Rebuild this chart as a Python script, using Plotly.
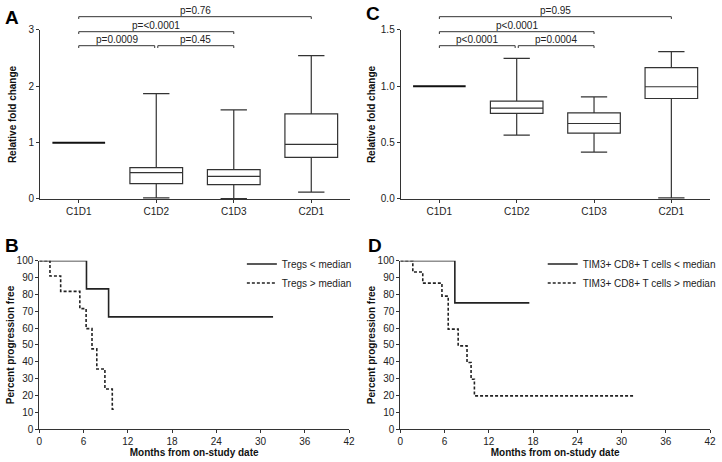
import plotly.graph_objects as go

W, H = 722, 462
FONT = "Arial, Liberation Sans, sans-serif"
LC = "#333333"

# ---------------- Panel A : Tregs relative fold change ----------------
cats = ["C1D1", "C1D2", "C1D3", "C2D1"]
a_low = [1.0, 0.02, 0.005, 0.12]
a_q1 = [1.0, 0.273, 0.255, 0.74]
a_med = [1.0, 0.468, 0.40, 0.97]
a_q3 = [1.0, 0.557, 0.52, 1.51]
a_high = [1.0, 1.87, 1.58, 2.545]
a_pairs = [(0, 0.98, "p=0.0009", 0), (1.02, 2, "p=0.45", 0), (0, 2, "p=<0.0001", 1), (0, 3, "p=0.76", 2)]

# ---------------- Panel C : TIM3+ CD8+ relative fold change ----------------
c_low = [1.0, 0.566, 0.415, 0.01]
c_q1 = [1.0, 0.759, 0.584, 0.892]
c_med = [1.0, 0.806, 0.67, 0.996]
c_q3 = [1.0, 0.869, 0.765, 1.165]
c_high = [1.0, 1.248, 0.907, 1.307]
c_pairs = [(0, 0.98, "p<0.0001", 0), (1.02, 2, "p=0.0004", 0), (0, 2, "p<0.0001", 1), (0, 3, "p=0.95", 2)]

# ---------------- Panel B : KM by Tregs ----------------
b_lo_t = [0, 6.4, 9.4, 31.7]
b_lo_s = [100, 83.3, 66.7, 66.7]
b_hi_t = [0, 1.45, 2.9, 5.5, 6.35, 7.15, 7.8, 8.9, 9.9, 10.3]
b_hi_s = [100, 90.9, 81.8, 71.6, 59.7, 47.7, 35.8, 23.9, 11.9, 11.9]

# ---------------- Panel D : KM by TIM3+ CD8+ ----------------
d_lo_t = [0, 7.4, 17.5]
d_lo_s = [100, 75, 75]
d_hi_t = [0, 1.7, 3.05, 5.65, 6.5, 7.85, 9.05, 9.6, 10.05, 31.8]
d_hi_s = [100, 93.3, 86.7, 79.0, 59.4, 49.5, 39.6, 29.7, 19.8, 19.8]

km_ticks = [0, 6, 12, 18, 24, 30, 36, 42]

fig = go.Figure()


def add_boxes(xa, ya, low, q1, med, q3, high):
    for i in range(len(cats)):
        flat = q1[i] == q3[i]
        fig.add_trace(go.Box(
            x=[i], q1=[q1[i]], median=[med[i]], q3=[q3[i]],
            lowerfence=[low[i]], upperfence=[high[i]],
            width=0.68, whiskerwidth=0.5, boxpoints=False,
            fillcolor="white", line=dict(color="#111" if flat else LC, width=2 if flat else 1.2),
            showlegend=False, hoverinfo="skip", xaxis=xa, yaxis=ya))


add_boxes("x", "y", a_low, a_q1, a_med, a_q3, a_high)
add_boxes("x3", "y3", c_low, c_q1, c_med, c_q3, c_high)

fig.add_trace(go.Scatter(x=b_lo_t, y=b_lo_s, mode="lines", line=dict(shape="hv", color="#222", width=1.6),
                         name="Tregs < median", xaxis="x2", yaxis="y2", legend="legend"))
fig.add_trace(go.Scatter(x=b_hi_t, y=b_hi_s, mode="lines", line=dict(shape="hv", color="#222", width=1.6, dash="3px,2px"),
                         name="Tregs > median", xaxis="x2", yaxis="y2", legend="legend"))
fig.add_trace(go.Scatter(x=d_lo_t, y=d_lo_s, mode="lines", line=dict(shape="hv", color="#222", width=1.6),
                         name="TIM3+ CD8+ T cells < median", xaxis="x4", yaxis="y4", legend="legend2"))
fig.add_trace(go.Scatter(x=d_hi_t, y=d_hi_s, mode="lines", line=dict(shape="hv", color="#222", width=1.6, dash="3px,2px"),
                         name="TIM3+ CD8+ T cells > median", xaxis="x4", yaxis="y4", legend="legend2"))

tickfont = dict(family=FONT, size=10, color="#222")
titlefont = dict(family=FONT, size=10, color="#111")
axbase = dict(showline=True, linecolor=LC, linewidth=1, ticks="outside", ticklen=3, tickcolor=LC,
              showgrid=False, zeroline=False, tickfont=tickfont, automargin=False)

top_dom = [0.5693, 0.9351]
bot_dom = [0.0708, 0.4357]
left_dom = [0.0554, 0.4848]
right_dom = [0.555, 0.9834]

fig.update_layout(
    width=W, height=H, autosize=False, margin=dict(l=0, r=0, t=0, b=0, autoexpand=False),
    paper_bgcolor="white", plot_bgcolor="white", font=dict(family=FONT, size=10, color="#222"),
    xaxis=dict(axbase, domain=left_dom, anchor="y", range=[-0.5, 3.5], tickvals=[0, 1, 2, 3], ticktext=cats),
    yaxis=dict(axbase, domain=top_dom, anchor="x", range=[0, 3], tickvals=[0, 1, 2, 3],
               title=dict(text="<b>Relative fold change</b>", font=titlefont, standoff=9)),
    xaxis3=dict(axbase, domain=right_dom, anchor="y3", range=[-0.5, 3.5], tickvals=[0, 1, 2, 3], ticktext=cats),
    yaxis3=dict(axbase, domain=top_dom, anchor="x3", range=[0, 1.5], tickvals=[0, 0.5, 1.0, 1.5], tickformat=".1f",
                title=dict(text="<b>Relative fold change</b>", font=titlefont, standoff=3)),
    xaxis2=dict(axbase, domain=[0.0544, 0.4834], anchor="y2", range=[0, 42], tickvals=km_ticks,
                title=dict(text="<b>Months from on-study date</b>", font=titlefont, standoff=1)),
    yaxis2=dict(axbase, domain=bot_dom, anchor="x2", range=[0, 100], dtick=10,
                title=dict(text="<b>Percent progression free</b>", font=titlefont, standoff=0)),
    xaxis4=dict(axbase, domain=[0.5544, 0.9834], anchor="y4", range=[0, 42], tickvals=km_ticks,
                title=dict(text="<b>Months from on-study date</b>", font=titlefont, standoff=1)),
    yaxis4=dict(axbase, domain=bot_dom, anchor="x4", range=[0, 100], dtick=10,
                title=dict(text="<b>Percent progression free</b>", font=titlefont, standoff=0)),
    legend=dict(x=0.335, y=0.46, xanchor="left", yanchor="top", bgcolor="rgba(0,0,0,0)",
                font=dict(family=FONT, size=10, color="#222"), tracegroupgap=0),
    legend2=dict(x=0.7517, y=0.46, xanchor="left", yanchor="top", bgcolor="rgba(0,0,0,0)",
                 font=dict(family=FONT, size=10, color="#222"), tracegroupgap=0),
)

# significance brackets (levels stacked above the top of the box panels)
level_y = [0.9011, 0.9314, 0.9639]
tick = 0.005
for xa, pairs in (("x", a_pairs), ("x3", c_pairs)):
    for x0, x1, label, lv in pairs:
        y = level_y[lv]
        fig.add_shape(type="path", xref=xa, yref="paper",
                      path=f"M {x0},{y - tick} L {x0},{y} L {x1},{y} L {x1},{y - tick}",
                      line=dict(color=LC, width=1))
        fig.add_annotation(x=(x0 + x1) / 2, y=y, xref=xa, yref="paper", text=label, showarrow=False,
                           yanchor="bottom", font=dict(family=FONT, size=10, color="#222"), yshift=-1)

# panel letters
for letter, px, py in (("A", 3, 17), ("C", 364, 14), ("B", 3, 245), ("D", 366, 245)):
    fig.add_annotation(x=px / W, y=1 - py / H, xref="paper", yref="paper", text=f"<b>{letter}</b>",
                       showarrow=False, xanchor="left", yanchor="middle",
                       font=dict(family=FONT, size=19, color="#000"))

fig.write_html("out.html", config={"displayModeBar": False},
               post_script="document.body.style.margin='0';")
